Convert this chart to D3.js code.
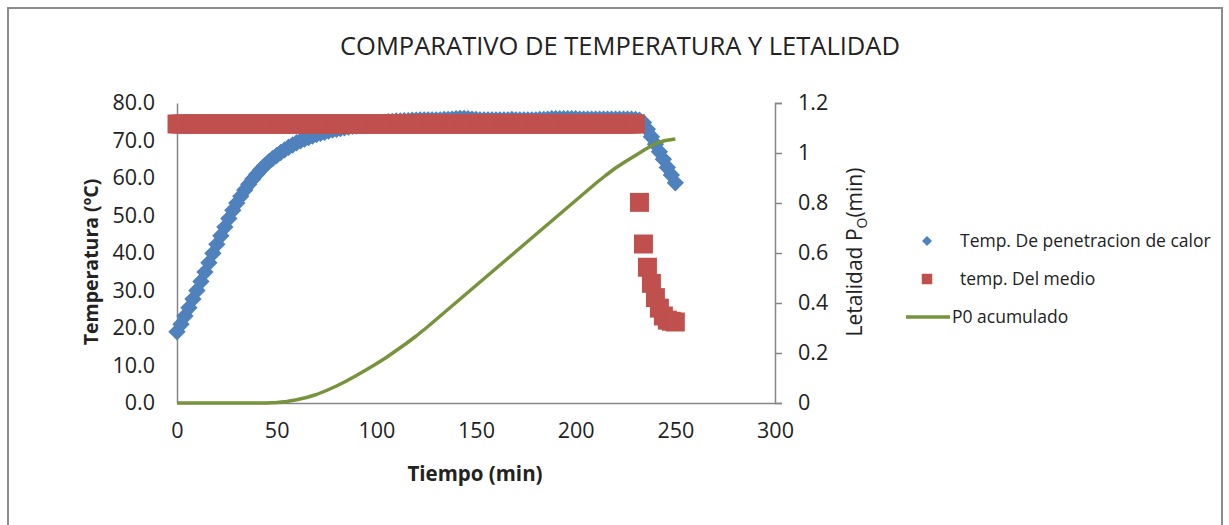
<!DOCTYPE html>
<html>
<head>
<meta charset="utf-8">
<script src="https://cdn.jsdelivr.net/npm/d3@7"></script>
<style>
  body { margin: 0; background: #fff; }
  text { font-family: "Open Sans", "Noto Sans", sans-serif; fill: #222; }
</style>
</head>
<body>
<div id="chart"></div>
<script>
// minutes, sampled every 2 min for both temperature series
var tiempo = d3.range(0, 251, 2);

// Temp. De penetracion de calor (ºC)
var tempPenetracion = [
  19.0, 21.0, 23.2, 25.4, 27.7, 30.0, 32.4, 34.9, 37.4, 39.9,
  42.3, 44.6, 46.9, 49.2, 51.4, 53.3, 55.1, 56.8, 58.3, 59.7,
  61.0, 62.2, 63.3, 64.3, 65.2, 66.0, 66.8, 67.5, 68.2, 68.8,
  69.4, 69.9, 70.4, 70.8, 71.2, 71.6, 71.9, 72.2, 72.5, 72.8,
  73.0, 73.2, 73.4, 73.6, 73.8, 73.9, 74.0, 74.1, 74.2, 74.4,
  74.5, 74.6, 74.8, 75.0, 75.1, 75.2, 75.2, 75.3, 75.3, 75.4,
  75.4, 75.5, 75.5, 75.5, 75.5, 75.5, 75.5, 75.6, 75.6, 75.7,
  75.8, 75.9, 75.9, 75.8, 75.7, 75.6, 75.5, 75.5, 75.5, 75.5,
  75.5, 75.5, 75.5, 75.5, 75.6, 75.5, 75.5, 75.5, 75.5, 75.5,
  75.5, 75.6, 75.6, 75.7, 75.8, 75.8, 75.8, 75.8, 75.8, 75.8,
  75.8, 75.7, 75.7, 75.7, 75.7, 75.7, 75.7, 75.7, 75.7, 75.7,
  75.7, 75.7, 75.7, 75.7, 75.7, 75.6, 75.4, 74.8, 73.0, 71.0,
  69.0, 67.0, 65.0, 62.8, 60.8, 58.7
];

// temp. Del medio (ºC)
var tempMedio = [
  74.4, 74.4, 74.4, 74.4, 74.4, 74.4, 74.4, 74.4, 74.4, 74.4,
  74.4, 74.4, 74.4, 74.4, 74.4, 74.4, 74.4, 74.4, 74.4, 74.4,
  74.4, 74.4, 74.4, 74.4, 74.4, 74.4, 74.4, 74.4, 74.4, 74.4,
  74.4, 74.4, 74.4, 74.4, 74.4, 74.4, 74.4, 74.4, 74.4, 74.4,
  74.4, 74.4, 74.4, 74.4, 74.4, 74.4, 74.4, 74.4, 74.4, 74.4,
  74.4, 74.4, 74.4, 74.4, 74.4, 74.4, 74.4, 74.4, 74.4, 74.4,
  74.4, 74.4, 74.4, 74.4, 74.4, 74.4, 74.4, 74.4, 74.4, 74.4,
  74.4, 74.4, 74.4, 74.4, 74.4, 74.4, 74.4, 74.4, 74.4, 74.4,
  74.4, 74.4, 74.4, 74.4, 74.4, 74.4, 74.4, 74.4, 74.4, 74.4,
  74.4, 74.4, 74.4, 74.4, 74.4, 74.4, 74.4, 74.4, 74.4, 74.4,
  74.4, 74.4, 74.4, 74.4, 74.4, 74.4, 74.4, 74.4, 74.4, 74.4,
  74.4, 74.4, 74.4, 74.4, 74.4, 74.4, 53.5, 42.4, 36.2, 31.9,
  28.1, 25.3, 23.2, 22.1, 21.8, 21.6
];

// P0 acumulado, every 5 min
var tiempoP0 = [
  0, 5, 10, 15, 20, 25, 30, 35, 40, 45,
  50, 55, 60, 65, 70, 75, 80, 85, 90, 95,
  100, 105, 110, 115, 120, 125, 130, 135, 140, 145,
  150, 155, 160, 165, 170, 175, 180, 185, 190, 195,
  200, 205, 210, 215, 220, 225, 230, 235, 240, 245, 250
];
var p0Acumulado = [
  0, 0, 0, 0, 0, 0, 0, 0, 0, 0,
  0.002, 0.006, 0.013, 0.022, 0.034, 0.05, 0.068, 0.088, 0.11, 0.133,
  0.157, 0.182, 0.21, 0.238, 0.268, 0.3, 0.334, 0.368, 0.402, 0.436,
  0.47, 0.504, 0.538, 0.572, 0.606, 0.64, 0.674, 0.708, 0.742, 0.776,
  0.81, 0.844, 0.878, 0.91, 0.94, 0.966, 0.99, 1.015, 1.038, 1.05, 1.056
];

var xTicks = [0, 50, 100, 150, 200, 250, 300];
var yTicks = [0, 10, 20, 30, 40, 50, 60, 70, 80];
var y2Ticks = [0, 0.2, 0.4, 0.6, 0.8, 1, 1.2];

var width = 1229, height = 525;
var colorBlue = '#4F81BD', colorRed = '#C0504D', colorGreen = '#77933C';
var axisColor = '#868686';

var svg = d3.select('#chart').append('svg')
    .attr('width', width)
    .attr('height', height);

// outer chart frame
svg.append('rect')
    .attr('x', 8).attr('y', 8)
    .attr('width', 1214).attr('height', 530)
    .attr('fill', 'none')
    .attr('stroke', '#8c8c8c')
    .attr('stroke-width', 2);

var x = d3.scaleLinear().domain([0, 300]).range([177, 775]);
var y = d3.scaleLinear().domain([0, 80]).range([403, 103]);
var y2 = d3.scaleLinear().domain([0, 1.2]).range([403, 103]);

// title
svg.append('text')
    .attr('x', 620).attr('y', 55)
    .attr('text-anchor', 'middle')
    .style('font-size', '25.5px')
    .text('COMPARATIVO DE TEMPERATURA Y LETALIDAD');

// axes
var gx = svg.append('g')
    .attr('transform', 'translate(0,403)')
    .call(d3.axisBottom(x).tickValues(xTicks).tickSize(0).tickPadding(20));
var gy = svg.append('g')
    .attr('transform', 'translate(177,0)')
    .call(d3.axisLeft(y).tickValues(yTicks).tickSize(0).tickPadding(22)
        .tickFormat(d3.format('.1f')));
var gy2 = svg.append('g')
    .attr('transform', 'translate(775,0)')
    .call(d3.axisRight(y2).tickValues(y2Ticks).tickSize(7).tickPadding(16)
        .tickFormat(function (d) { return String(+d.toFixed(1)); }));

[gx, gy, gy2].forEach(function (g) {
    g.select('.domain').attr('stroke', axisColor).attr('stroke-width', 1.5);
    g.selectAll('.tick line').attr('stroke', axisColor).attr('stroke-width', 1.5);
    g.selectAll('.tick text')
        .style('font-size', '21.5px')
        .style('font-family', '"Open Sans", sans-serif')
        .attr('fill', '#222');
});

// axis titles
svg.append('text')
    .attr('x', 475).attr('y', 481)
    .attr('text-anchor', 'middle')
    .style('font-size', '20.5px')
    .style('font-weight', 'bold')
    .text('Tiempo (min)');

svg.append('text')
    .attr('transform', 'translate(98,262) rotate(-90)')
    .attr('text-anchor', 'middle')
    .style('font-size', '19.5px')
    .style('font-weight', 'bold')
    .text('Temperatura (ºC)');

var rt = svg.append('text')
    .attr('transform', 'translate(862,252) rotate(-90)')
    .attr('text-anchor', 'middle')
    .style('font-size', '21px');
rt.append('tspan').text('Letalidad P');
rt.append('tspan').attr('dy', 5).style('font-size', '14px').text('O');
rt.append('tspan').attr('dy', -5).text('(min)');

// series
var diamond = d3.symbol().type(d3.symbolSquare).size(150);
var square = d3.symbol().type(d3.symbolSquare).size(361);

svg.append('g').selectAll('path')
    .data(tiempo)
    .join('path')
    .attr('d', diamond)
    .attr('transform', function (t, i) {
        return 'translate(' + x(t) + ',' + y(tempPenetracion[i]) + ') rotate(45)';
    })
    .attr('fill', colorBlue);

svg.append('g').selectAll('path')
    .data(tiempo)
    .join('path')
    .attr('d', square)
    .attr('transform', function (t, i) {
        return 'translate(' + x(t) + ',' + y(tempMedio[i]) + ')';
    })
    .attr('fill', colorRed);

var line = d3.line()
    .x(function (d) { return x(d[0]); })
    .y(function (d) { return y2(d[1]); });

svg.append('path')
    .datum(d3.zip(tiempoP0, p0Acumulado))
    .attr('d', line)
    .attr('fill', 'none')
    .attr('stroke', colorGreen)
    .attr('stroke-width', 3.5)
    .attr('stroke-linejoin', 'round');

// legend
var legend = svg.append('g');
var legendItems = ['Temp. De penetracion de calor', 'temp. Del medio', 'P0 acumulado'];
var legendY = [241, 279, 317];

legend.append('path')
    .attr('d', d3.symbol().type(d3.symbolSquare).size(50))
    .attr('transform', 'translate(927,' + legendY[0] + ') rotate(45)')
    .attr('fill', colorBlue);
legend.append('path')
    .attr('d', d3.symbol().type(d3.symbolSquare).size(110))
    .attr('transform', 'translate(927,' + legendY[1] + ')')
    .attr('fill', colorRed);
legend.append('line')
    .attr('x1', 906).attr('x2', 950)
    .attr('y1', legendY[2]).attr('y2', legendY[2])
    .attr('stroke', colorGreen)
    .attr('stroke-width', 3.5);

legend.selectAll('text.item')
    .data(legendItems)
    .join('text')
    .attr('class', 'item')
    .attr('x', function (d, i) { return i === 2 ? 952 : 960; })
    .attr('y', function (d, i) { return legendY[i]; })
    .attr('dy', '0.35em')
    .style('font-size', '17.5px')
    .text(function (d) { return d; });
</script>
</body>
</html>
